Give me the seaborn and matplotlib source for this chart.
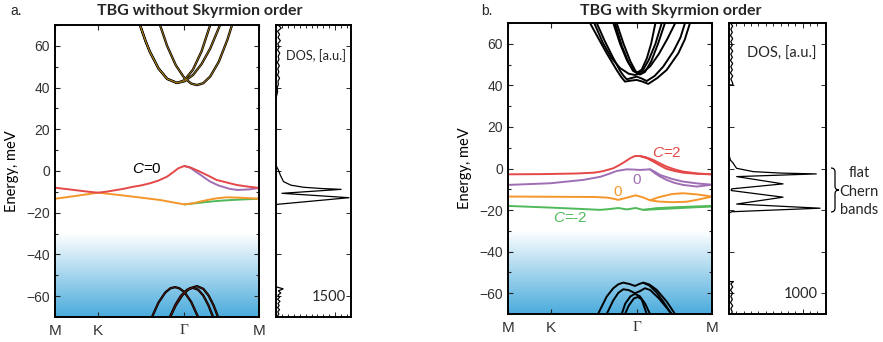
import numpy as np
import matplotlib
matplotlib.use("Agg")
import matplotlib.pyplot as plt
import seaborn as sns
from matplotlib.colors import LinearSegmentedColormap
from matplotlib.ticker import MultipleLocator
from matplotlib.path import Path
from matplotlib.patches import PathPatch

sns.set_style("ticks")
plt.rcParams["font.family"] = ["Liberation Sans", "DejaVu Sans"]
plt.rcParams["mathtext.fontset"] = "custom"
plt.rcParams["mathtext.it"] = "Liberation Sans:italic"
plt.rcParams["mathtext.rm"] = "Liberation Sans"

# ---------------- data ----------------
# k-path coordinate: M=0, K=0.5, Gamma=1.5, M=2.366
kpath_ticks = [0.0, 0.5, 1.5, 2.366]
kpath_labels = ["M", "K", "Γ", "M"]
energy_ticks = [-60, -40, -20, 0, 20, 40, 60]

# ---- panel a: flat bands ----
a_red_k = [0, 0.1, 0.2, 0.3, 0.4, 0.5, 0.6, 0.7, 0.8, 0.9, 1.0, 1.1, 1.2, 1.3, 1.37, 1.43, 1.5, 1.57, 1.68, 1.78, 1.875, 2.0, 2.107, 2.24, 2.366]
a_red_E = [-8.0, -8.5, -9.0, -9.5, -10.0, -10.4, -9.9, -9.2, -8.5, -7.6, -6.9, -5.9, -4.6, -2.7, -0.6, 1.3, 2.4, 1.7, -0.3, -2.3, -4.3, -5.6, -6.7, -7.5, -8.1]
a_purple_k = [1.5, 1.57, 1.65, 1.72, 1.8, 1.9, 2.03, 2.12, 2.26, 2.366]
a_purple_E = [2.4, 1.5, -0.8, -2.8, -5.1, -7.0, -8.6, -9.1, -8.8, -8.1]
a_orange_k = [0, 0.25, 0.5, 0.7, 0.905, 1.1, 1.22, 1.4, 1.5, 1.6, 1.68, 1.78, 1.875, 1.99, 2.15, 2.366]
a_orange_E = [-13.3, -11.9, -10.4, -11.3, -12.3, -13.3, -13.9, -15.3, -16.0, -15.5, -14.7, -13.8, -13.1, -12.6, -12.8, -13.3]
a_green_k = [1.5, 1.6, 1.75, 1.9, 2.05, 2.2, 2.366]
a_green_E = [-16.0, -15.6, -14.9, -14.3, -13.9, -13.6, -13.3]

# ---- panel a: remote bands ----
a_up1_k = [0.986, 1.05, 1.1, 1.2, 1.3, 1.415, 1.5, 1.6, 1.7, 1.8]
a_up1_E = [70, 62.3, 57.2, 49.2, 44.2, 42.2, 43.5, 48.6, 57.4, 70]
a_up2_k = [0.986, 1.05, 1.1, 1.2, 1.3, 1.415, 1.5, 1.6, 1.7, 1.8, 1.914]
a_up2_E = [70, 62.3, 57.2, 49.2, 44.2, 42.2, 43.0, 46.0, 51.3, 58.7, 70]
a_up3_k = [1.218, 1.3, 1.4, 1.5, 1.58, 1.647, 1.72, 1.8, 1.9, 2.0, 2.053]
a_up3_E = [70, 60.0, 50.8, 44.6, 41.9, 41.2, 42.1, 45.3, 52.4, 63.0, 70]
a_lo1_k = [1.125, 1.2, 1.28, 1.34, 1.392, 1.44, 1.5, 1.58, 1.659]
a_lo1_E = [-70, -63.1, -58.2, -56.2, -55.7, -56.2, -58.0, -62.8, -70]
a_lo2_k = [1.334, 1.4, 1.46, 1.53, 1.6, 1.66, 1.72, 1.78, 1.833]
a_lo2_E = [-70, -63.9, -59.9, -57.0, -56.0, -56.9, -59.7, -64.4, -70]
a_lo3_k = [1.334, 1.4, 1.48, 1.56, 1.647, 1.72, 1.78, 1.84, 1.891]
a_lo3_E = [-70, -64.4, -59.4, -56.3, -55.2, -56.5, -59.6, -64.5, -70]

# ---- panel b: flat Chern bands ----
b_red_k = [0, 0.4, 0.8, 1.0, 1.1, 1.22, 1.29, 1.357, 1.42, 1.473, 1.53, 1.6, 1.685, 1.76, 1.84, 1.93, 2.03, 2.2, 2.366]
b_red_E = [-2.8, -2.7, -2.4, -2.0, -1.3, 0.1, 1.6, 3.3, 5.0, 6.0, 6.0, 5.4, 4.1, 2.5, 0.9, -0.4, -1.5, -2.4, -2.8]
b_red2_k = [1.53, 1.62, 1.7, 1.77, 1.84, 1.93, 2.03, 2.2, 2.366]
b_red2_E = [6.0, 4.8, 3.0, 1.3, -0.2, -1.2, -2.0, -2.6, -2.8]
b_purple_k = [0, 0.49, 0.87, 1.07, 1.17, 1.26, 1.377, 1.45, 1.53, 1.647, 1.7, 1.763, 1.9, 2.03, 2.2, 2.366]
b_purple_E = [-7.9, -7.1, -5.5, -4.0, -2.6, -1.2, -0.4, -0.5, -0.7, -0.4, -1.5, -3.1, -5.0, -6.3, -7.2, -7.8]
b_purple2_k = [1.647, 1.705, 1.77, 1.84, 1.93, 2.03, 2.19, 2.366]
b_purple2_E = [-0.4, -2.3, -4.0, -5.5, -6.9, -7.9, -8.7, -7.8]
b_orange_k = [0, 0.5, 1.0, 1.15, 1.22, 1.28, 1.38, 1.48, 1.56, 1.647, 1.75, 1.9, 2.03, 2.2, 2.366]
b_orange_E = [-13.5, -13.6, -13.7, -14.0, -14.5, -15.1, -14.0, -12.9, -13.8, -15.3, -13.8, -12.3, -11.9, -12.5, -13.5]
b_orange2_k = [1.647, 1.75, 1.9, 2.07, 2.2, 2.366]
b_orange2_E = [-15.3, -15.9, -16.2, -16.0, -15.0, -13.5]
b_green_k = [0, 0.487, 0.87, 1.067, 1.18, 1.28, 1.377, 1.48, 1.57, 1.72, 1.957, 2.15, 2.366]
b_green_E = [-18.0, -18.8, -19.5, -19.9, -19.5, -19.0, -19.7, -19.0, -19.9, -19.1, -18.6, -18.3, -18.0]
b_green2_k = [1.57, 1.72, 1.957, 2.15, 2.366]
b_green2_E = [-19.9, -19.6, -19.1, -18.7, -18.3]

# ---- panel b: remote bands ----
b_up1_k = [0.951, 1.05, 1.145, 1.26, 1.31, 1.357, 1.43, 1.493, 1.56, 1.627, 1.73, 1.84, 1.975, 2.05, 2.111]
b_up1_E = [70, 62.5, 55.4, 47.4, 44.2, 41.8, 42.3, 42.6, 41.8, 40.7, 43.5, 47.4, 55.4, 62.0, 70]
b_up2_k = [1.029, 1.12, 1.21, 1.30, 1.34, 1.377, 1.44, 1.493, 1.55, 1.609, 1.70, 1.80, 1.92, 2.0, 2.053]
b_up2_E = [70, 61.5, 54, 47, 44.6, 42.9, 43.6, 44.2, 43.3, 42.1, 44.5, 49, 56.5, 63, 70]
b_up3_k = [1.221, 1.30, 1.38, 1.45, 1.50, 1.56, 1.63, 1.71, 1.783]
b_up3_E = [70, 60, 52, 47, 45.8, 47, 52, 60, 70]
b_up4_k = [1.26, 1.34, 1.42, 1.48, 1.53, 1.59, 1.66, 1.74, 1.82]
b_up4_E = [70, 60, 51.5, 46.8, 45.2, 46.5, 51.5, 60, 70]
b_up5_k = [1.0, 1.1, 1.2, 1.3, 1.4, 1.47, 1.55, 1.65, 1.75, 1.85, 1.94]
b_up5_E = [70, 60.5, 53.2, 48.3, 45.6, 45.0, 45.8, 49.2, 55.1, 62.5, 70]
b_up6_k = [1.24, 1.32, 1.40, 1.46, 1.50, 1.55, 1.61, 1.66, 1.71]
b_up6_E = [70, 59, 51, 47, 46.2, 47.5, 53, 60, 70]
b_lo1_k = [1.044, 1.145, 1.221, 1.28, 1.337, 1.41, 1.473, 1.52, 1.569, 1.64, 1.725, 1.84, 1.937]
b_lo1_E = [-70, -61.6, -57.6, -55.7, -54.9, -55.6, -56.5, -55.6, -54.9, -55.8, -58.4, -64, -70]
b_lo1b_k = [1.569, 1.64, 1.72, 1.80, 1.895]
b_lo1b_E = [-55.0, -56.3, -59.5, -64, -70]
b_lo2_k = [1.145, 1.22, 1.28, 1.337, 1.40, 1.473, 1.53, 1.589, 1.65, 1.75, 1.83, 1.899]
b_lo2_E = [-70, -63.5, -59.8, -58.1, -58.5, -60, -59, -57.6, -58.5, -62.5, -66.5, -70]
b_lo3_k = [1.319, 1.36, 1.42, 1.473, 1.53, 1.59, 1.647]
b_lo3_E = [-70, -65, -61.5, -60.3, -61.5, -65, -70]
b_lo4_k = [1.357, 1.40, 1.46, 1.508, 1.55, 1.609]
b_lo4_E = [-70, -66, -62.5, -61.8, -63, -70]

# ---- DOS ----
dos_a_E = [3.5, 2.9, 1.5, 0.5, -2.0, -5.1, -6.8, -7.8, -8.4, -8.8, -10.7, -12.8, -16.0, -16.6]
dos_a_D = [0, 0, 30, 60, 110, 190, 380, 700, 1150, 1650, 150, 1850, 20, 0]
dos_a_top_E = [70, 68.5, 67, 65.5, 64, 62.5, 61, 59.5, 58, 56.5, 55, 53.5, 52, 50.5, 49, 47.5, 46, 44.5, 43, 41.5, 40, 38, 36, 35]
dos_a_top_D = [60, 130, 40, 90, 50, 110, 45, 80, 40, 95, 55, 75, 35, 85, 45, 70, 40, 90, 50, 60, 30, 40, 15, 0]
dos_a_bot_E = [-55.5, -56.5, -57.5, -58.5, -59.5, -60.5, -61.5, -62.5, -63.5, -64.5, -65.5, -66.5, -67.5, -68.5, -69.5, -70]
dos_a_bot_D = [0, 180, 60, 120, 50, 90, 40, 100, 50, 80, 40, 90, 45, 70, 40, 50]
dos_b_E = [6.5, 4.0, 2.7, 1.5, 0.1, -1.5, -2.2, -2.6, -3.9, -7.4, -9.8, -10.6, -13.8, -17.1, -19.1, -20.8, -21.5]
dos_b_D = [0, 20, 54, 75, 103, 328, 700, 1184, 104, 733, 36, 30, 733, 104, 1236, 36, 0]
dos_b_top_E = [70, 68.5, 67, 65.5, 64, 62.5, 61, 59.5, 58, 56.5, 55, 53.5, 52, 50.5, 49, 47.5, 46, 44.5, 43, 41.5, 40.2, 40.2]
dos_b_top_D = [20, 50, 25, 45, 20, 50, 25, 45, 20, 50, 25, 45, 20, 50, 25, 45, 20, 50, 25, 45, 55, 0]
dos_b_bot_E = [-54.4, -54.4, -55.5, -57, -58.5, -60, -61.5, -63, -64.5, -66, -67.5, -69, -70]
dos_b_bot_D = [0, 60, 25, 50, 20, 50, 25, 45, 20, 50, 25, 45, 30]

RED = "#e44848"
PURPLE = "#a06eb4"
ORANGE = "#f5962a"
GREEN = "#50b95a"
GOLD = "#a8801a"
TXT = "#333333"

W, H = 883, 342
fig = plt.figure(figsize=(W / 100, H / 100), dpi=100)


def rect(x0, y0, x1, y1):
    return [x0 / W, 1 - y1 / H, (x1 - x0) / W, (y1 - y0) / H]


def fxy(x, y):
    return (x / W, 1 - y / H)


def draw(ax, k, e, color, lw=1.4, z=3):
    sns.lineplot(x=k, y=e, ax=ax, color=color, linewidth=lw, sort=False,
                 estimator=None, zorder=z, legend=False)


cmap = LinearSegmentedColormap.from_list("bg", ["#ffffff", "#4aabdc"])


def style_band_ax(ax):
    ax.set_xlim(0, 2.366)
    ax.set_ylim(-70, 70)
    grad = np.linspace(1, 0, 256)[:, None]
    ax.imshow(grad, extent=[0, 2.366, -70, -30], origin="lower", cmap=cmap,
              aspect="auto", zorder=0)
    ax.set_xticks(kpath_ticks)
    ax.set_xticklabels(kpath_labels)
    for t in ax.get_xticklabels():
        if t.get_text() == "Γ":
            t.set_fontfamily(["Liberation Serif", "DejaVu Serif"])
            t.set_fontsize(12)
    ax.set_yticks(energy_ticks)
    ax.yaxis.set_minor_locator(MultipleLocator(10))
    ax.tick_params(axis="x", direction="in", top=True, bottom=True, length=3.5,
                   width=0.8, pad=5, labelsize=11, labelcolor=TXT)
    ax.tick_params(axis="y", which="both", direction="in", left=True, right=True,
                   width=0.8, labelsize=10, labelcolor=TXT)
    ax.tick_params(axis="y", which="major", length=3.5)
    ax.tick_params(axis="y", which="minor", length=2.2)
    for s in ax.spines.values():
        s.set_linewidth(1.4)
        s.set_color("black")
        s.set_zorder(10)
    ax.set_xlabel("")
    ax.set_ylabel("Energy, meV", fontsize=10.5, family=["Lato", "DejaVu Sans"], color="black")
    ax.yaxis.set_label_coords(-0.175, 0.5)


def style_dos_ax(ax, xmax, major, minor):
    ax.set_xlim(0, xmax)
    ax.set_ylim(-70, 70)
    ax.set_xticks(np.arange(0, xmax, major))
    ax.xaxis.set_minor_locator(MultipleLocator(minor))
    ax.set_yticks(energy_ticks)
    ax.tick_params(axis="both", which="both", direction="in", top=True, bottom=True,
                   left=True, right=True, labelbottom=False, labelleft=False, width=0.7)
    ax.tick_params(axis="both", which="major", length=3.5)
    ax.tick_params(axis="both", which="minor", length=2)
    for s in ax.spines.values():
        s.set_linewidth(1.4)
        s.set_color("black")
    ax.set_xlabel("")
    ax.set_ylabel("")


# ================= panel a =================
axa = fig.add_axes(rect(55, 25, 259, 317))
for k, e in [(a_up1_k, a_up1_E), (a_up2_k, a_up2_E), (a_up3_k, a_up3_E)]:
    draw(axa, k, e, "black", lw=1.7)
    draw(axa, k, e, GOLD, lw=0.6, z=4)
for k, e in [(a_lo1_k, a_lo1_E), (a_lo2_k, a_lo2_E), (a_lo3_k, a_lo3_E)]:
    draw(axa, k, e, "black", lw=1.7)
    draw(axa, k, e, "#5a1a10", lw=0.5, z=4)
draw(axa, a_green_k, a_green_E, GREEN)
draw(axa, a_orange_k, a_orange_E, ORANGE, z=4)
draw(axa, a_purple_k, a_purple_E, PURPLE, z=4)
draw(axa, a_red_k, a_red_E, RED, z=5)
axa.text(1.067, 1.0, r"$C$=0", fontsize=11, ha="center", va="center", color="black")
style_band_ax(axa)

dosa = fig.add_axes(rect(276, 25, 351, 317))
for d, e in [(dos_a_D, dos_a_E), (dos_a_top_D, dos_a_top_E), (dos_a_bot_D, dos_a_bot_E)]:
    draw(dosa, d, e, "black", lw=0.9)
style_dos_ax(dosa, 1900, 1500, 150)
dosa.text(0.93, 0.895, "DOS, [a.u.]", transform=dosa.transAxes, ha="right", va="center",
          fontsize=9.2, family=["Lato", "DejaVu Sans"])
dosa.text(0.93, 0.07, "1500", transform=dosa.transAxes, ha="right", va="center",
          fontsize=10.5, family=["Lato", "DejaVu Sans"])

# ================= panel b =================
axb = fig.add_axes(rect(508, 23, 712, 314))
for k, e in [(b_up1_k, b_up1_E), (b_up2_k, b_up2_E), (b_up3_k, b_up3_E), (b_up4_k, b_up4_E),
             (b_up5_k, b_up5_E), (b_up6_k, b_up6_E),
             (b_lo1_k, b_lo1_E), (b_lo1b_k, b_lo1b_E), (b_lo2_k, b_lo2_E), (b_lo3_k, b_lo3_E),
             (b_lo4_k, b_lo4_E)]:
    draw(axb, k, e, "black", lw=1.4)
draw(axb, b_green2_k, b_green2_E, GREEN)
draw(axb, b_green_k, b_green_E, GREEN)
draw(axb, b_orange2_k, b_orange2_E, ORANGE)
draw(axb, b_orange_k, b_orange_E, ORANGE)
draw(axb, b_purple2_k, b_purple2_E, PURPLE)
draw(axb, b_purple_k, b_purple_E, PURPLE)
draw(axb, b_red2_k, b_red2_E, RED)
draw(axb, b_red_k, b_red_E, RED)
axb.text(1.844, 7.5, r"$C$=2", fontsize=11, ha="center", va="center", color=RED)
axb.text(1.496, -5.5, "0", fontsize=11, ha="center", va="center", color=PURPLE)
axb.text(1.276, -11.3, "0", fontsize=11, ha="center", va="center", color=ORANGE)
axb.text(0.719, -23.8, r"$C$=-2", fontsize=11, ha="center", va="center", color=GREEN)
style_band_ax(axb)

dosb = fig.add_axes(rect(729, 23, 826, 314))
for d, e in [(dos_b_D, dos_b_E), (dos_b_top_D, dos_b_top_E), (dos_b_bot_D, dos_b_bot_E)]:
    draw(dosb, d, e, "black", lw=0.9)
style_dos_ax(dosb, 1316, 1000, 100)
dosb.text(0.9, 0.895, "DOS, [a.u.]", transform=dosb.transAxes, ha="right", va="center",
          fontsize=10.5, family=["Lato", "DejaVu Sans"])
dosb.text(0.91, 0.07, "1000", transform=dosb.transAxes, ha="right", va="center",
          fontsize=10.5, family=["Lato", "DejaVu Sans"])

# ================= titles & annotations =================
fig.text(*fxy(10, 11), "a.", fontsize=10, ha="left", va="center")
fig.text(*fxy(481, 11), "b.", fontsize=10, ha="left", va="center")
fig.text(*fxy(200, 11), "TBG without Skyrmion order", fontsize=11.5, fontweight="bold",
         family=["Lato", "DejaVu Sans"], ha="center", va="center")
fig.text(*fxy(671, 11), "TBG with Skyrmion order", fontsize=11.5, fontweight="bold",
         family=["Lato", "DejaVu Sans"], ha="center", va="center")

for txt, yy in [("flat", 173), ("Chern", 192), ("bands", 210)]:
    fig.text(*fxy(859, yy), txt, fontsize=10.5, family=["Lato", "DejaVu Sans"],
             ha="center", va="center")

verts = [(831, 168), (835, 168), (835, 172), (835, 186), (835, 190), (839, 190),
         (835, 190), (835, 194), (835, 208), (835, 212), (831, 212)]
codes = [Path.MOVETO, Path.CURVE3, Path.CURVE3, Path.LINETO, Path.CURVE3, Path.CURVE3,
         Path.CURVE3, Path.CURVE3, Path.LINETO, Path.CURVE3, Path.CURVE3]
brace = Path([fxy(x, y) for x, y in verts], codes)
fig.patches.append(PathPatch(brace, transform=fig.transFigure, fill=False, lw=0.9,
                             edgecolor="black"))

fig.savefig("out.png", dpi=100)
